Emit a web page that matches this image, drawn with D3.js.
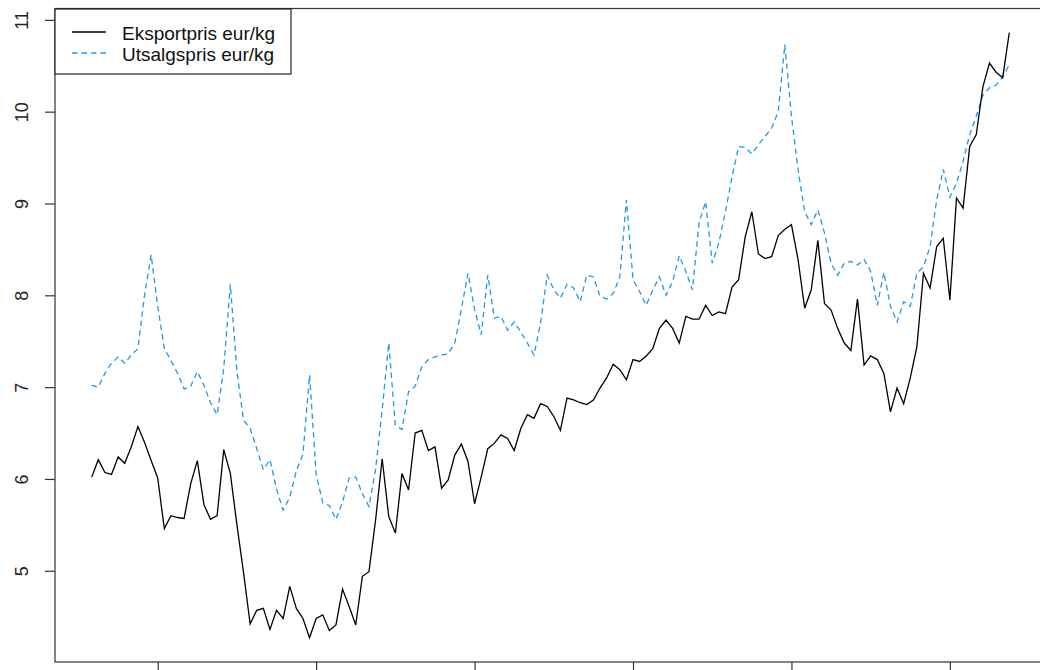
<!DOCTYPE html>
<html>
<head>
<meta charset="utf-8">
<script src="https://cdn.jsdelivr.net/npm/d3@7"></script>
<style>
  html, body { margin: 0; padding: 0; background: #fff; }
  svg { display: block; font-family: "Liberation Sans", Arial, sans-serif; }
</style>
</head>
<body>
<svg id="chart" width="1040" height="670"></svg>
<script>
// Monthly prices, EUR per kg
const eksport = [
  6.02, 6.21, 6.07, 6.05, 6.24, 6.17, 6.35, 6.57, 6.40, 6.20,
  6.01, 5.46, 5.60, 5.58, 5.57, 5.95, 6.20, 5.72, 5.56, 5.60,
  6.32, 6.06, 5.50, 4.98, 4.42, 4.57, 4.59, 4.36, 4.57, 4.48,
  4.83, 4.59, 4.48, 4.27, 4.48, 4.52, 4.35, 4.41, 4.80, 4.61,
  4.41, 4.94, 4.99, 5.55, 6.22, 5.59, 5.41, 6.06, 5.88, 6.50,
  6.53, 6.31, 6.35, 5.90, 5.99, 6.26, 6.38, 6.19, 5.73, 6.02,
  6.33, 6.39, 6.48, 6.44, 6.31, 6.55, 6.70, 6.66, 6.82, 6.79,
  6.68, 6.53, 6.88, 6.86, 6.83, 6.81, 6.86, 6.99, 7.10, 7.25,
  7.19, 7.08, 7.30, 7.28, 7.34, 7.42, 7.64, 7.73, 7.64, 7.48,
  7.77, 7.74, 7.74, 7.89, 7.78, 7.82, 7.80, 8.09, 8.17, 8.64,
  8.91, 8.45, 8.40, 8.42, 8.65, 8.72, 8.77, 8.39, 7.86, 8.06,
  8.60, 7.91, 7.84, 7.64, 7.48, 7.40, 7.96, 7.24, 7.34, 7.30,
  7.15, 6.73, 6.99, 6.82, 7.10, 7.44, 8.24, 8.08, 8.53, 8.62,
  7.95, 9.06, 8.95, 9.62, 9.75, 10.27, 10.53, 10.43, 10.37, 10.86
];
const utsalg = [
  7.02, 7.00, 7.15, 7.26, 7.33, 7.26, 7.35, 7.42, 8.00, 8.44,
  7.88, 7.42, 7.29, 7.15, 6.98, 7.01, 7.17, 7.02, 6.83, 6.70,
  7.20, 8.12, 7.17, 6.64, 6.55, 6.33, 6.10, 6.21, 5.89, 5.66,
  5.80, 6.09, 6.27, 7.13, 6.05, 5.74, 5.71, 5.56, 5.75, 6.01,
  6.02, 5.84, 5.70, 6.10, 6.75, 7.48, 6.58, 6.54, 6.95, 7.01,
  7.22, 7.30, 7.33, 7.35, 7.36, 7.48, 7.85, 8.24, 7.85, 7.57,
  8.22, 7.75, 7.77, 7.62, 7.71, 7.60, 7.48, 7.35, 7.70, 8.22,
  8.06, 7.97, 8.12, 8.08, 7.93, 8.22, 8.20, 7.99, 7.96, 8.02,
  8.20, 9.04, 8.17, 8.04, 7.89, 8.06, 8.20, 8.00, 8.15, 8.43,
  8.26, 8.06, 8.79, 9.02, 8.35, 8.57, 8.91, 9.29, 9.62, 9.61,
  9.54, 9.64, 9.73, 9.82, 10.00, 10.73, 9.95, 9.37, 8.91, 8.77,
  8.93, 8.68, 8.35, 8.22, 8.35, 8.37, 8.33, 8.39, 8.26, 7.89,
  8.25, 7.88, 7.71, 7.93, 7.88, 8.24, 8.31, 8.53, 9.04, 9.37,
  9.07, 9.22, 9.46, 9.75, 9.95, 10.18, 10.26, 10.29, 10.38, 10.51
];
const seriesNames = ["Eksportpris eur/kg", "Utsalgspris eur/kg"];
const yTicks = [5, 6, 7, 8, 9, 10, 11];
const xTicks = [10, 34, 58, 82, 106, 130];   // month index of each axis tick

const svg = d3.select("#chart");
const plot = { left: 55, right: 1046, top: 8.5, bottom: 662 };
const blue = "#2297E6";

// Axis ranges padded by 4% on each side
const n = eksport.length;
const xPad = (n - 1) * 0.04;
const x = d3.scaleLinear().domain([-xPad, n - 1 + xPad]).range([plot.left, plot.right]);
const all = eksport.concat(utsalg);
const [ymin, ymax] = d3.extent(all);
const yPad = (ymax - ymin) * 0.04;
const y = d3.scaleLinear().domain([ymin - yPad, ymax + yPad]).range([plot.bottom, plot.top]);

const line = d3.line().x((d, i) => x(i)).y(d => y(d));

svg.append("path").datum(utsalg)
  .attr("d", line).attr("fill", "none")
  .attr("stroke", blue).attr("stroke-width", 1.3)
  .attr("stroke-dasharray", "5.5,4");

svg.append("path").datum(eksport)
  .attr("d", line).attr("fill", "none")
  .attr("stroke", "#000").attr("stroke-width", 1.3);

// Frame
svg.append("rect")
  .attr("x", plot.left).attr("y", plot.top)
  .attr("width", plot.right - plot.left).attr("height", plot.bottom - plot.top)
  .attr("fill", "none").attr("stroke", "#333").attr("stroke-width", 1.2);

// Left axis, labels parallel to the axis
const yAxis = svg.append("g")
  .attr("transform", `translate(${plot.left},0)`)
  .call(d3.axisLeft(y).tickValues(yTicks).tickSize(10).tickFormat(d3.format("d")));
yAxis.select(".domain").remove();
yAxis.selectAll(".tick line").attr("stroke", "#333").attr("stroke-width", 1.2);
yAxis.selectAll(".tick text")
  .attr("x", 0).attr("dy", 0)
  .attr("transform", "translate(-27,0) rotate(-90)")
  .attr("text-anchor", "middle")
  .attr("fill", "#222")
  .style("font-size", "18px")
  .style("font-family", "'Liberation Sans', Arial, sans-serif");

// Bottom axis ticks
const xAxis = svg.append("g")
  .attr("transform", `translate(0,${plot.bottom})`)
  .call(d3.axisBottom(x).tickValues(xTicks).tickSize(10).tickFormat(""));
xAxis.select(".domain").remove();
xAxis.selectAll(".tick line").attr("stroke", "#333").attr("stroke-width", 1.2);

// Legend
const lg = svg.append("g");
lg.append("rect")
  .attr("x", plot.left).attr("y", 9).attr("width", 236).attr("height", 65)
  .attr("fill", "#fff").attr("stroke", "#222").attr("stroke-width", 1.2);
const legendRows = [
  { name: seriesNames[0], color: "#000", dash: null, ly: 32, ty: 39.5 },
  { name: seriesNames[1], color: blue, dash: "5.5,4", ly: 53, ty: 61 }
];
legendRows.forEach(r => {
  lg.append("line")
    .attr("x1", 72).attr("x2", 106).attr("y1", r.ly).attr("y2", r.ly)
    .attr("stroke", r.color).attr("stroke-width", 1.3)
    .attr("stroke-dasharray", r.dash);
  lg.append("text")
    .attr("x", 122).attr("y", r.ty)
    .attr("fill", "#111")
    .style("font-size", "19px")
    .text(r.name);
});
</script>
</body>
</html>
